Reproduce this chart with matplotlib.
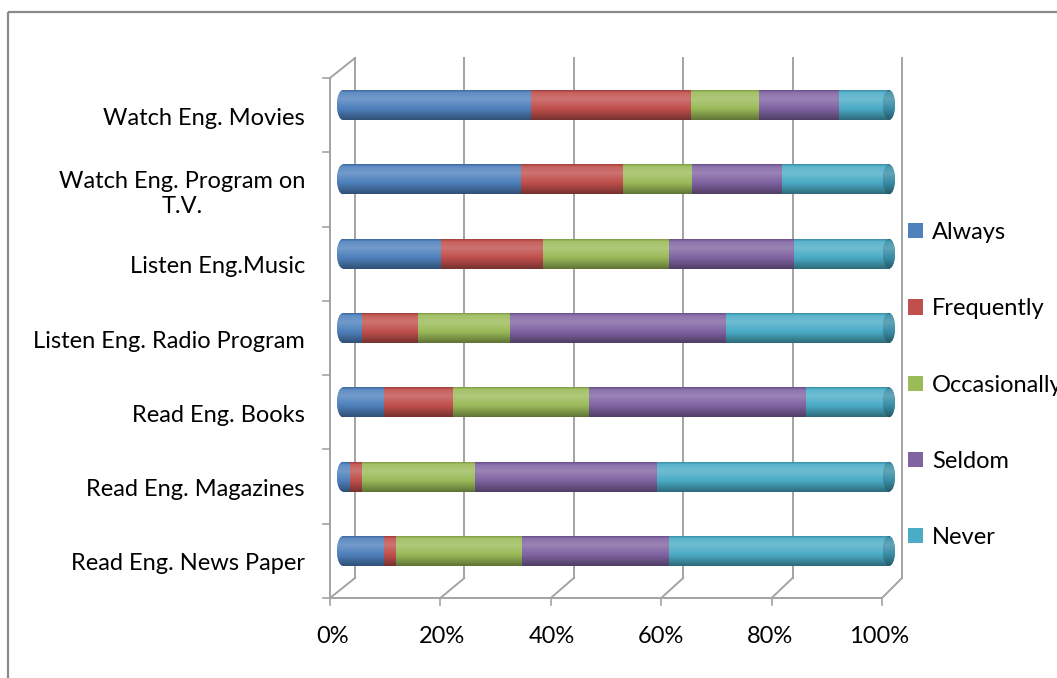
import numpy as np
import matplotlib
matplotlib.use('Agg')
import matplotlib.pyplot as plt
from matplotlib.patches import Ellipse, Rectangle
from matplotlib.transforms import ScaledTranslation
from matplotlib.colors import to_rgb

plt.rcParams['font.family'] = ['Lato', 'DejaVu Sans']

# Survey answers, bottom row first (share of respondents, %)
activities = ['Read Eng. News Paper', 'Read Eng. Magazines', 'Read Eng. Books',
              'Listen Eng. Radio Program', 'Listen Eng.Music',
              'Watch Eng. Program on\nT.V.', 'Watch Eng. Movies']
always       = [7.5, 1.3, 7.5, 3.5, 17.9, 32.6, 34.4]
frequently   = [2.2, 2.2, 12.6, 10.3, 18.7, 18.7, 29.3]
occasionally = [23.1, 20.7, 24.9, 16.8, 23.1, 12.6, 12.5]
seldom       = [26.9, 33.3, 39.7, 39.6, 22.9, 16.5, 14.5]
never        = [40.3, 42.5, 15.2, 29.9, 17.4, 19.6, 9.2]

answers = ['Always', 'Frequently', 'Occasionally', 'Seldom', 'Never']
colors = ['#4F81BD', '#C0504D', '#9BBB59', '#8064A2', '#4BACC6']
xticks = [0, 20, 40, 60, 80, 100]

W, H = 1057, 678
fs = 17
fig = plt.figure(figsize=(W / 100, H / 100), dpi=100)

# pixel-space layer for the 3-D box, grid and outer frame
bg = fig.add_axes([0, 0, 1, 1], zorder=0)
bg.set_xlim(0, W); bg.set_ylim(H, 0); bg.axis('off')
gc = '#a3a3a3'
bg.add_patch(Rectangle((8, 12), 1200, 800, fill=False, ec='#8a8a8a', lw=1.6))
back_x = lambda p: 355 + 5.47 * p
front_x = lambda p: 330 + 5.52 * p
top_back, bot_back, top_front, bot_front = 58, 578, 78, 598
for p in xticks:
    bg.plot([back_x(p)] * 2, [top_back, bot_back], color=gc, lw=1.4)
    bg.plot([back_x(p), front_x(p)], [bot_back, bot_front], color=gc, lw=1.4)
    bg.plot([front_x(p)] * 2, [bot_front, bot_front + 7], color=gc, lw=1.2)
bg.plot([front_x(0), front_x(100)], [bot_front] * 2, color=gc, lw=1.4)
bg.plot([front_x(0)] * 2, [top_front, bot_front], color=gc, lw=1.4)
bg.plot([front_x(0), back_x(0)], [top_front, top_back], color=gc, lw=1.4)
for k in range(len(activities) + 1):
    yk = top_front + k * (bot_front - top_front) / len(activities)
    bg.plot([front_x(0) - 7, front_x(0)], [yk, yk], color=gc, lw=1.2)

# bar axes: 0% at x=343 px, 100% at x=889 px
x0px, x1px = 343, 889
pxp = (x1px - x0px) / 100
axl, axr = 330, 902
ax = fig.add_axes([axl / W, (H - 598) / H, (axr - axl) / W, (598 - 78) / H], zorder=1)
ax.patch.set_visible(False)
for s in ax.spines.values():
    s.set_visible(False)

data = np.array([always, frequently, occasionally, seldom, never])
data = data / data.sum(axis=0) * 100
y = np.arange(len(activities))
bh = 0.40
left = np.zeros(len(activities))
bars = []
for vals, c, name in zip(data, colors, answers):
    bars.append(ax.barh(y, vals, left=left, height=bh, color=c, label=name,
                        zorder=2, lw=0))
    left = left + vals

# cylinder shading
tt = np.array([0, 0.08, 0.3, 0.65, 1.0])
ff = np.array([0.82, 1.1, 1.2, 0.97, 0.62])
prof = np.interp(np.linspace(0, 1, 64), tt, ff)

def shade(c):
    c = np.array(to_rgb(c))
    out = []
    for f in prof:
        if f > 1:
            out.append(c + (1 - c) * (f - 1))
        else:
            out.append(c * f)
    return np.clip(np.array(out), 0, 1)[:, None, :]

for cont, c in zip(bars, colors):
    g = shade(c)
    for r in cont.patches:
        bx, by, w, h = r.get_x(), r.get_y(), r.get_width(), r.get_height()
        if w <= 0:
            continue
        ax.imshow(g, extent=(bx, bx + w, by, by + h), aspect='auto',
                  origin='upper', zorder=3, interpolation='bilinear')

cap_w = 2.2
for yi in y:
    e = Ellipse((0, yi), cap_w, bh, fc=colors[0], lw=0, zorder=1.5)
    ax.add_patch(e)
    im = ax.imshow(shade(colors[0]), extent=(-cap_w / 2, cap_w / 2, yi - bh / 2, yi + bh / 2),
                   aspect='auto', origin='upper', zorder=1.6, interpolation='bilinear')
    im.set_clip_path(e)
    e2 = Ellipse((100, yi), cap_w, bh, fc='#2f8197', lw=0, zorder=4)
    ax.add_patch(e2)
    im2 = ax.imshow(shade('#3a8ea6'), extent=(100 - cap_w / 2, 100 + cap_w / 2, yi - bh / 2, yi + bh / 2),
                    aspect='auto', origin='upper', zorder=4.1, interpolation='bilinear')
    im2.set_clip_path(e2)

ax.set_xlim((axl - x0px) / pxp, (axr - x0px) / pxp)
ax.set_ylim((551 - 598) / 74.33, (551 - 78) / 74.33)

ax.set_yticks(y)
ax.set_yticklabels(activities, fontsize=fs, multialignment='center')
ax.tick_params(axis='y', length=0, pad=18)
for lab in ax.get_yticklabels():
    lab.set_transform(lab.get_transform() + ScaledTranslation(0, -0.11, fig.dpi_scale_trans))

ax.set_xticks(xticks)
ax.set_xticklabels([f'{p}%' for p in xticks], fontsize=fs)
ax.tick_params(axis='x', length=0, pad=20)
for lab in ax.get_xticklabels():
    lab.set_transform(lab.get_transform() + ScaledTranslation(-0.10, 0, fig.dpi_scale_trans))

handles = [Rectangle((0, 0), 1, 1, fc=c, lw=0) for c in colors]
fig.legend(handles, answers, loc='upper left', bbox_to_anchor=(908 / W, 1 - 222 / H),
           frameon=False, fontsize=fs, handlelength=0.62, handleheight=0.62,
           handletextpad=0.4, labelspacing=2.34, borderaxespad=0, borderpad=0)

fig.savefig('out.png', dpi=100)
